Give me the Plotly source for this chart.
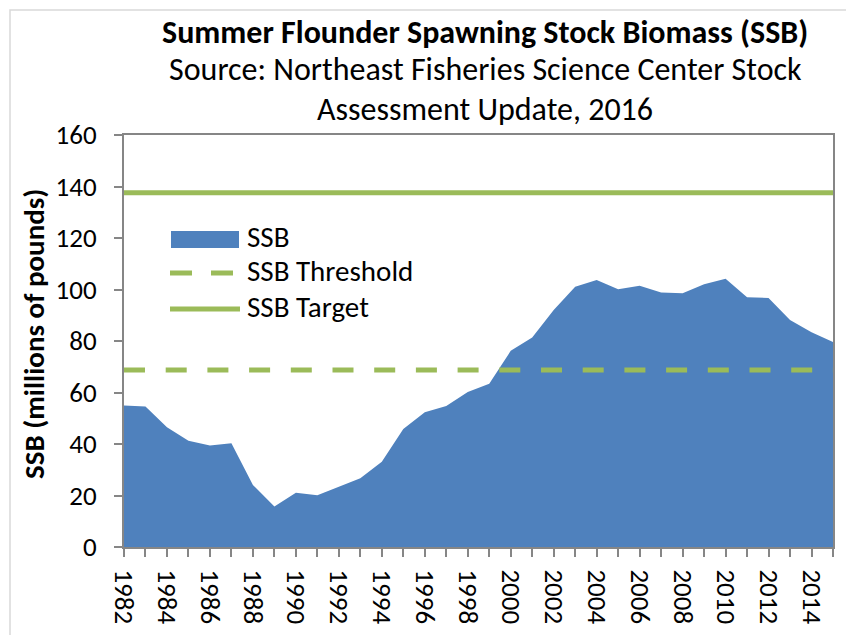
import plotly.graph_objects as go

years = list(range(1982, 2016))
ssb = [55.0, 54.6, 46.5, 41.3, 39.4, 40.3, 24.1, 15.7, 21.1, 20.1, 23.4, 26.7,
       33.1, 45.8, 52.3, 54.8, 60.2, 63.4, 76.2, 81.4, 92.0, 101.1, 103.7, 100.1,
       101.5, 98.8, 98.5, 102.0, 104.2, 97.0, 96.7, 88.2, 83.4, 79.6]
ssb_threshold = 68.78
ssb_target = 137.56

title_lines = ["<b>Summer Flounder Spawning Stock Biomass (SSB)</b>",
               "Source: Northeast Fisheries Science Center Stock",
               "Assessment Update, 2016"]
legend_labels = ["SSB", "SSB Threshold", "SSB Target"]
y_title = "<b>SSB (millions of pounds)</b>"

BLUE = "#4F81BD"
GREEN = "#9BBB59"
AXIS = "#868686"
FONT = "Carlito, Calibri, Lato, sans-serif"

# page body has an 8px margin; the figure is sized/placed so the plot area
# lands on screen at x 124..833, y 135..547
OFF = 8
W, H = 846, 627
L, R, T, B = 116, 21, 127, 88
PW, PH = W - L - R, H - T - B


def px(x):  # screen x -> paper
    return (x - OFF - L) / PW


def py(y):  # screen y -> paper
    return (H - B - (y - OFF)) / PH


fig = go.Figure()
fig.add_trace(go.Scatter(x=years, y=ssb, mode="lines", fill="tozeroy",
                         fillcolor=BLUE, line=dict(width=0, color=BLUE),
                         name=legend_labels[0], showlegend=False))
fig.add_trace(go.Scatter(x=[years[0], years[-1]], y=[ssb_threshold] * 2,
                         mode="lines", line=dict(color=GREEN, width=5, dash="21px,20.7px"),
                         name=legend_labels[1], showlegend=False))
fig.add_trace(go.Scatter(x=[years[0], years[-1]], y=[ssb_target] * 2,
                         mode="lines", line=dict(color=GREEN, width=5),
                         name=legend_labels[2], showlegend=False))

shapes = [
    # outer chart border
    dict(type="rect", xref="paper", yref="paper", x0=px(10), x1=px(849),
         y0=py(650), y1=py(10), line=dict(color="#D9D9D9", width=1.5), layer="below"),
    # legend symbols
    dict(type="rect", xref="paper", yref="paper", x0=px(171), x1=px(239),
         y0=py(248), y1=py(231), fillcolor=BLUE, line=dict(width=0)),
    dict(type="line", xref="paper", yref="paper", x0=px(170), x1=px(233),
         y0=py(273), y1=py(273), line=dict(color=GREEN, width=5, dash="22px,19px")),
    dict(type="line", xref="paper", yref="paper", x0=px(170), x1=px(240),
         y0=py(309), y1=py(309), line=dict(color=GREEN, width=5)),
]

annotations = []
for text, yc in zip(title_lines, [32, 70, 109]):
    annotations.append(dict(text=text, xref="paper", yref="paper", x=px(485), y=py(yc),
                            xanchor="center", yanchor="middle", showarrow=False,
                            font=dict(family=FONT, size=32, color="#000000")))
for text, yc in zip(legend_labels, [237.5, 271, 307]):
    annotations.append(dict(text=text, xref="paper", yref="paper", x=px(245), y=py(yc),
                            xanchor="left", yanchor="middle", showarrow=False,
                            font=dict(family=FONT, size=29, color="#000000")))
annotations.append(dict(text=y_title, xref="paper", yref="paper", x=px(34), y=py(334),
                        xanchor="center", yanchor="middle", textangle=-90, showarrow=False,
                        font=dict(family=FONT, size=29, color="#000000")))

fig.update_layout(
    width=W, height=H,
    margin=dict(l=L, r=R, t=T, b=B, pad=0, autoexpand=False),
    plot_bgcolor="white", paper_bgcolor="white",
    font=dict(family=FONT, size=27, color="#000000"),
    shapes=shapes, annotations=annotations,
    showlegend=False,
)
fig.update_xaxes(range=[1982, 2015], tick0=1982, dtick=2, tickangle=90,
                 ticks="outside", ticklen=8, tickwidth=1.5, tickcolor=AXIS,
                 minor=dict(dtick=1, ticks="outside", ticklen=8, tickwidth=1.5, tickcolor=AXIS),
                 showline=True, linecolor=AXIS, linewidth=2, mirror=True,
                 showgrid=False, zeroline=False, ticklabelstandoff=7,
                 tickfont=dict(family=FONT, size=27))
fig.update_yaxes(range=[0, 160], dtick=20, ticks="outside", ticklen=8, tickwidth=1.5,
                 tickcolor=AXIS, showline=True, linecolor=AXIS, linewidth=2, mirror=True,
                 showgrid=False, zeroline=False, ticklabelstandoff=12,
                 tickfont=dict(family=FONT, size=27))

fig.write_html("out.html")
